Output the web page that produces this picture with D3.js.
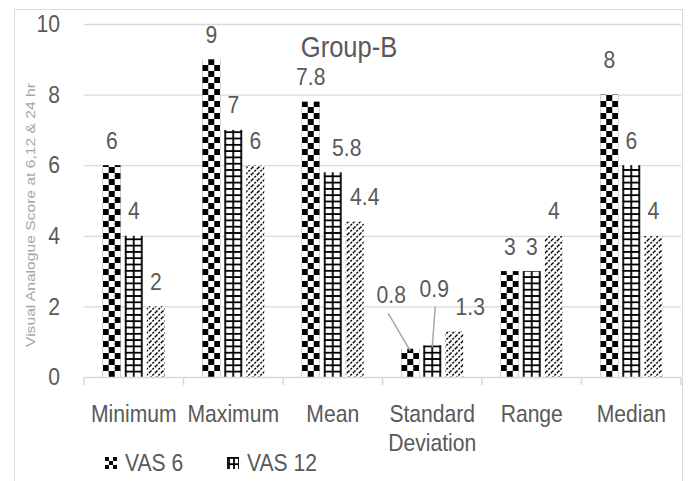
<!DOCTYPE html>
<html>
<head>
<meta charset="utf-8">
<script src="https://cdn.jsdelivr.net/npm/d3@7"></script>
<style>
  html, body { margin: 0; padding: 0; background: #fff; }
  svg { display: block; font-family: "Liberation Sans", Arial, sans-serif; }
</style>
</head>
<body>
<svg id="chart" width="689" height="481"></svg>
<script>
// Pain scores (VAS) summary for Group-B
const categories = ["Minimum", "Maximum", "Mean", "Standard Deviation", "Range", "Median"];
const seriesNames = ["VAS 6", "VAS 12", "VAS 24"];
const vas6  = [6, 9, 7.8, 0.8, 3, 8];
const vas12 = [4, 7, 5.8, 0.9, 3, 6];
const vas24 = [2, 6, 4.4, 1.3, 4, 4];
const yTicks = [0, 2, 4, 6, 8, 10];
const chartTitle = "Group-B";
const yTitle = "Visual Analogue Score at  6,12 & 24 hr";

const seriesValues = [vas6, vas12, vas24];

// label nudges (px) for labels moved off their default spot: "series-category"
const labelNudge = {
  "1-2": [14, 0], "2-2": [10, 0],
  "0-3": [-19, -29], "1-3": [2, -32], "2-3": [16, 0],
  "0-5": [0, -10]
};
// labels joined to their bar with a leader line
const leaders = ["0-3", "1-3"];

const svg = d3.select("#chart");
const W = 689, H = 481;
const plot = { left: 84, right: 681, top: 24, bottom: 377 };
const squash = 0.88;            // narrow text rendering
const textColor = "#595959";
const gridColor = "#d9d9d9";

// outer frame
svg.append("rect")
  .attr("x", 14.5).attr("y", 9.5)
  .attr("width", 668).attr("height", 480)
  .attr("fill", "none").attr("stroke", gridColor).attr("stroke-width", 1);

const x0 = d3.scaleBand().domain(categories).range([plot.left, plot.right]).padding(0);
const groupW = 62;
const x1 = d3.scaleBand().domain(seriesNames).range([0, groupW]).paddingInner(0.182).paddingOuter(0);
const y = d3.scaleLinear().domain([0, 10]).range([plot.bottom, plot.top]);

function squashed(sel, x, yy) {
  return sel.attr("x", 0).attr("y", 0)
    .attr("transform", `translate(${x},${yy}) scale(${squash},1)`);
}

// gridlines + y tick labels
const yAxis = d3.axisLeft(y).tickValues(yTicks)
  .tickSize(-(plot.right - plot.left)).tickPadding(24).tickFormat(d3.format("d"));
const gy = svg.append("g").attr("transform", `translate(${plot.left},0)`).call(yAxis);
gy.select(".domain").remove();
gy.selectAll(".tick line").attr("stroke", gridColor).attr("stroke-width", 1.3)
  .filter(d => d === 0).remove();
gy.selectAll(".tick text")
  .attr("fill", textColor).attr("font-size", 24)
  .attr("font-family", "Liberation Sans, Arial, sans-serif")
  .each(function() {
    const t = d3.select(this);
    t.attr("transform", `translate(-24,0) scale(${squash},1)`).attr("x", 0);
  });

// patterns, one per bar so each tile starts at the bar's corner
const defs = svg.append("defs");
const cell = 6;

function checker(id, ox, oy, c) {
  const p = defs.append("pattern").attr("id", id).attr("patternUnits", "userSpaceOnUse")
    .attr("x", ox).attr("y", oy).attr("width", 2 * c).attr("height", 2 * c);
  p.append("rect").attr("width", 2 * c).attr("height", 2 * c).attr("fill", "#fff");
  p.append("rect").attr("x", 0).attr("y", 0).attr("width", c).attr("height", c).attr("fill", "#000");
  p.append("rect").attr("x", c).attr("y", c).attr("width", c).attr("height", c).attr("fill", "#000");
}
function grid(id, ox, oy, bw) {
  const ph = 6.3;
  const p = defs.append("pattern").attr("id", id).attr("patternUnits", "userSpaceOnUse")
    .attr("x", ox).attr("y", oy).attr("width", bw).attr("height", ph);
  p.append("rect").attr("width", bw).attr("height", ph).attr("fill", "#fff");
  [1, bw / 2, bw - 1].forEach(vx =>
    p.append("line").attr("x1", vx).attr("x2", vx).attr("y1", 0).attr("y2", ph)
      .attr("stroke", "#000").attr("stroke-width", 1.8));
  p.append("line").attr("x1", 0).attr("x2", bw).attr("y1", 0.9).attr("y2", 0.9)
    .attr("stroke", "#000").attr("stroke-width", 1.8);
}
function dotted(id) {
  const s = 6;
  const p = defs.append("pattern").attr("id", id).attr("patternUnits", "userSpaceOnUse")
    .attr("width", s).attr("height", s);
  p.append("rect").attr("width", s).attr("height", s).attr("fill", "#fff");
  p.append("path").attr("d", `M0,${s} L${s},0 M-1,1 L1,-1 M${s - 1},${s + 1} L${s + 1},${s - 1}`)
    .attr("stroke", "#000").attr("stroke-width", 1.4).attr("stroke-dasharray", "2.2 1.2");
}
dotted("pat-dot");

const bw = x1.bandwidth();
const groupOffset = (x0.bandwidth() - groupW) / 2;

const bars = [];
seriesNames.forEach((s, si) => {
  categories.forEach((c, ci) => {
    const v = seriesValues[si][ci];
    const bx = x0(c) + groupOffset + x1(s);
    const by = y(v);
    const id = `pat-${si}-${ci}`;
    let fill;
    if (si === 0) { checker(id, bx, y(0), cell); fill = `url(#${id})`; }
    else if (si === 1) { grid(id, bx, y(0), bw); fill = `url(#${id})`; }
    else fill = "url(#pat-dot)";
    bars.push({ si, ci, v, bx, by, fill });
  });
});

svg.append("g").selectAll("rect").data(bars).join("rect")
  .attr("x", d => d.bx).attr("y", d => d.by)
  .attr("width", bw).attr("height", d => y(0) - d.by)
  .attr("fill", d => d.fill);

// baseline and category boundary ticks
svg.append("line").attr("x1", plot.left).attr("x2", plot.right)
  .attr("y1", y(0) + 0.5).attr("y2", y(0) + 0.5)
  .attr("stroke", gridColor).attr("stroke-width", 1.5);
const bounds = categories.map(c => x0(c)).concat([x0.range()[1]]);
svg.append("g").selectAll("line").data(bounds).join("line")
  .attr("x1", d => d).attr("x2", d => d)
  .attr("y1", y(0)).attr("y2", y(0) + 8)
  .attr("stroke", gridColor).attr("stroke-width", 1.5);

// category labels
const catG = svg.append("g");
categories.forEach(c => {
  const words = c === "Standard Deviation" ? ["Standard", "Deviation"] : [c];
  words.forEach((w, i) => {
    catG.append("text").text(w)
      .attr("text-anchor", "middle").attr("font-size", 24).attr("fill", textColor)
      .call(squashed, x0(c) + x0.bandwidth() / 2, 422 + i * 29);
  });
});

// value labels
const fmt = v => (Number.isInteger(v) ? d3.format("d")(v) : d3.format(".1f")(v));
const labG = svg.append("g");
bars.forEach(b => {
  const key = `${b.si}-${b.ci}`;
  const n = labelNudge[key] || [0, 0];
  const lx = b.bx + bw / 2 + n[0];
  const ly = b.by - 16.5 + n[1];
  if (leaders.includes(key)) {
    labG.append("line")
      .attr("x1", lx - (b.si === 0 ? 3 : -1)).attr("y1", ly + 10)
      .attr("x2", b.bx + bw / 2).attr("y2", b.by + 2)
      .attr("stroke", "#a6a6a6").attr("stroke-width", 1.5);
  }
  labG.append("text").text(fmt(b.v))
    .attr("text-anchor", "middle").attr("font-size", 24).attr("fill", textColor)
    .call(squashed, lx, ly);
});

// title
svg.append("text").text(chartTitle)
  .attr("text-anchor", "middle").attr("font-size", 29).attr("fill", textColor)
  .call(squashed, 349, 57);

// y axis title
svg.append("text").text(yTitle)
  .attr("text-anchor", "middle").attr("font-size", 12).attr("fill", "#a6a6a6")
  .attr("textLength", 264).attr("lengthAdjust", "spacingAndGlyphs")
  .attr("x", 0).attr("y", 0)
  .attr("transform", "translate(35,215) rotate(-90)");

// legend (first two series)
const legendItems = [{ name: seriesNames[0], x: 105 }, { name: seriesNames[1], x: 227 }];
checker("pat-leg-0", 105, 457, 4);
grid("pat-leg-1", 228, 457, 12);
const lg = svg.append("g");
legendItems.forEach((it, i) => {
  lg.append("rect").attr("x", it.x).attr("y", 457).attr("width", 12).attr("height", 12)
    .attr("fill", `url(#pat-leg-${i})`);
  lg.append("text").text(it.name).attr("font-size", 24).attr("fill", textColor)
    .call(squashed, it.x + 20, 471);
});
</script>
</body>
</html>
